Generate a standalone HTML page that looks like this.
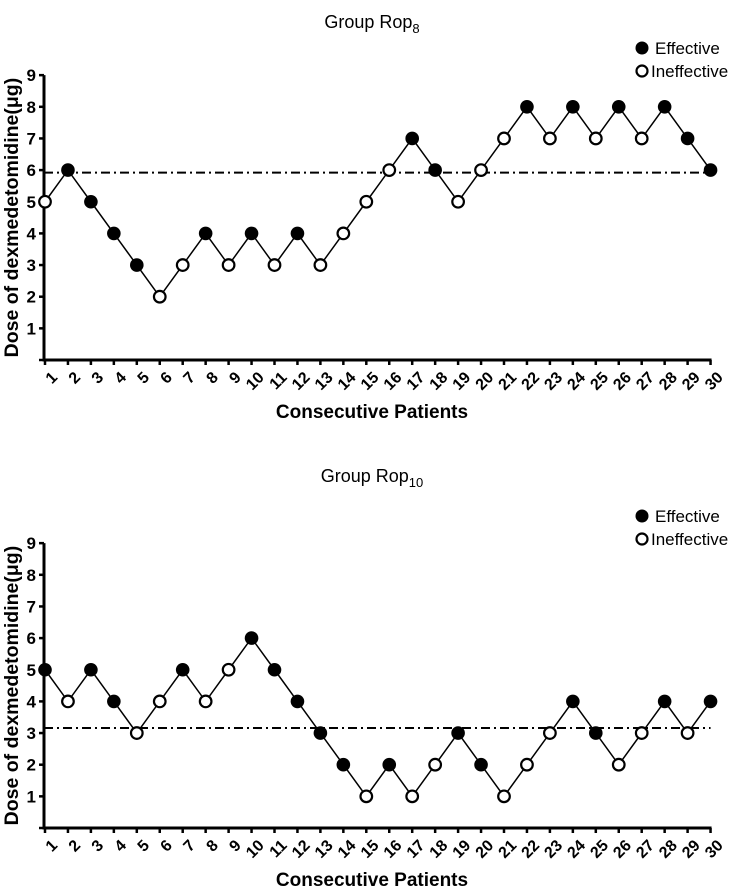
<!DOCTYPE html>
<html><head><meta charset="utf-8"><style>
body{margin:0;background:#fff;}
svg{display:block;font-family:"Liberation Sans",Arial,sans-serif;}
</style></head><body>
<svg id="svg" width="744" height="888" viewBox="0 0 744 888"></svg>
<script>
const patients = Array.from({length:30},(_,i)=>i+1);
const yTicks = [1,2,3,4,5,6,7,8,9];
const rop8Dose = [5,6,5,4,3,2,3,4,3,4,3,4,3,4,5,6,7,6,5,6,7,8,7,8,7,8,7,8,7,6];
const rop8Effective = [0,1,1,1,1,0,0,1,0,1,0,1,0,0,0,0,1,1,0,0,0,1,0,1,0,1,0,1,1,1];
const rop8Ref = 5.92;
const rop10Dose = [5,4,5,4,3,4,5,4,5,6,5,4,3,2,1,2,1,2,3,2,1,2,3,4,3,2,3,4,3,4];
const rop10Effective = [1,0,1,1,0,0,1,0,0,1,1,1,1,1,0,1,0,0,1,1,0,0,0,1,1,0,0,1,0,1];
const rop10Ref = 3.16;

const NS='http://www.w3.org/2000/svg';
const svg=document.getElementById('svg');
function mk(tag,attrs,parent){const e=document.createElementNS(NS,tag);for(const k in attrs)e.setAttribute(k,attrs[k]);(parent||svg).appendChild(e);return e;}

function panel(key,top,titleY,sub,dose,eff,ref){
  const g=mk('g',{});
  
  
  const x0=44,xStep=22.95,yBase=top+285,unit=31.65;
  const X=i=>x0+1+i*xStep, Y=v=>yBase-v*unit;
  const t=mk('text',{x:372,y:titleY,'text-anchor':'middle','font-size':18},g);
  
  
  t.innerHTML='Group Rop<tspan font-size="13" dy="5">'+sub+'</tspan>';
  const ax=mk('path',{d:`M${x0} ${Y(9)} V${yBase} H${X(29)+1}`,stroke:'#000','stroke-width':3,fill:'none'},g);
  
  
  yTicks.concat([0]).forEach(v=>{
    mk('line',{x1:x0-5,x2:x0,y1:Y(v),y2:Y(v),stroke:'#000','stroke-width':2.5},g);
  });
  yTicks.forEach(v=>{
    const l=mk('text',{x:x0-8,y:Y(v)+6,'text-anchor':'end','font-size':17,'font-weight':'bold'},g);
    
    
    l.textContent=v;
  });
  patients.forEach((p,i)=>{
    mk('line',{x1:X(i),x2:X(i),y1:yBase,y2:yBase+5,stroke:'#000','stroke-width':2.5},g);
    const l=mk('text',{x:X(i)+6,y:yBase+11,'text-anchor':'end','font-size':16,'font-weight':'bold',transform:`rotate(-45 ${X(i)+6} ${yBase+11})`,'dominant-baseline':'hanging'},g);
    
    
    l.textContent=p;
  });
  const yt=mk('text',{x:0,y:0,'text-anchor':'middle','font-size':19.5,'font-weight':'bold',transform:`translate(18 ${Y(4.5)}) rotate(-90)`},g);
  
  
  yt.textContent='Dose of dexmedetomidine(μg)';
  const xt=mk('text',{x:372,y:yBase+58,'text-anchor':'middle','font-size':19,'font-weight':'bold'},g);
  
  
  xt.textContent='Consecutive Patients';
  const rl=mk('line',{x1:x0,x2:X(29),y1:Y(ref),y2:Y(ref),stroke:'#000','stroke-width':2,'stroke-dasharray':'9 4 2 4'},g);
  
  
  const ln=mk('polyline',{points:dose.map((d,i)=>X(i)+','+Y(d)).join(' '),fill:'none',stroke:'#000','stroke-width':1.5},g);
  
  
  dose.forEach((d,i)=>{
    const c=mk('circle',{cx:X(i),cy:Y(d),r:eff[i]?6.8:5.8,fill:eff[i]?'#000':'#fff',stroke:'#000','stroke-width':eff[i]?0:2.2},g);
    
    
  });
  const lg=mk('g',{},g);
  
  
  mk('circle',{cx:642,cy:top-27,r:6.5,fill:'#000'},lg);
  mk('circle',{cx:642,cy:top-4,r:5.5,fill:'#fff',stroke:'#000','stroke-width':2.2},lg);
  const e1=mk('text',{x:655,y:top-21,'font-size':17},lg);
  
  
  e1.textContent='Effective';
  const e2=mk('text',{x:651,y:top+2,'font-size':17},lg);
  
  
  e2.textContent='Ineffective';
}
panel('rop8',75,28,'8',rop8Dose,rop8Effective,rop8Ref);
panel('rop10',543,482,'10',rop10Dose,rop10Effective,rop10Ref);
</script>
</body></html>
